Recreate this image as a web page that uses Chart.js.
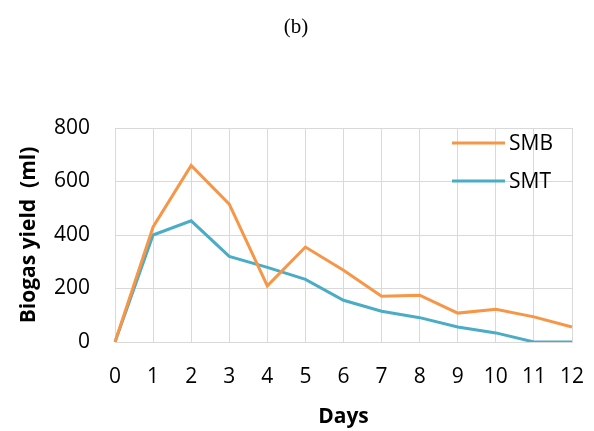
<!DOCTYPE html>
<html>
<head>
<meta charset="utf-8">
<script src="https://cdn.jsdelivr.net/npm/chart.js@4.4.1/dist/chart.umd.min.js"></script>
<style>
  html, body { margin: 0; padding: 0; background: #fff; }
  #wrap { width: 594px; height: 431px; }
</style>
</head>
<body>
<div id="wrap"><canvas id="c"></canvas></div>
<script>
const days = ["0","1","2","3","4","5","6","7","8","9","10","11","12"];
const smb = [0, 430, 660, 515, 210, 355, 268, 171, 175, 108, 122, 94, 56];
const smt = [0, 400, 453, 320, 279, 234, 156, 115, 91, 56, 34, 0, 0];
const yTicks = [0, 200, 400, 600, 800];

const gridColor = '#d9d9d9';
const tickFont = { family: 'Open Sans', size: 21 };
const titleFont = { family: 'Open Sans', size: 21, weight: 'bold' };

// "(b)" heading and the in-plot legend
const extras = {
  id: 'extras',
  afterDraw(chart) {
    const { ctx, chartArea } = chart;
    ctx.save();
    ctx.fillStyle = '#000';
    ctx.font = '21px "Liberation Serif"';
    ctx.textAlign = 'center';
    ctx.textBaseline = 'middle';
    ctx.fillText('(b)', 296, 27);

    chart.data.datasets.forEach((ds, i) => {
      const y = chartArea.top + 15 + i * 38;
      const x0 = chartArea.right - 120;
      ctx.strokeStyle = ds.borderColor;
      ctx.lineWidth = 3;
      ctx.beginPath();
      ctx.moveTo(x0, y);
      ctx.lineTo(x0 + 53, y);
      ctx.stroke();
      ctx.fillStyle = '#000';
      ctx.font = '21px "Open Sans"';
      ctx.textAlign = 'left';
      ctx.fillText(ds.label, x0 + 57, y + 1);
    });
    ctx.restore();
  }
};

new Chart(document.getElementById('c'), {
  type: 'line',
  data: {
    labels: days,
    datasets: [
      { label: 'SMB', data: smb, borderColor: '#f79646', borderWidth: 3, pointRadius: 0, tension: 0 },
      { label: 'SMT', data: smt, borderColor: '#4bacc6', borderWidth: 3, pointRadius: 0, tension: 0 }
    ]
  },
  options: {
    responsive: true,
    maintainAspectRatio: false,
    animation: false,
    layout: { padding: { top: 128, right: 22, left: 0, bottom: 0 } },
    plugins: {
      legend: { display: false },
      tooltip: { enabled: false }
    },
    scales: {
      x: {
        offset: false,
        grid: { color: gridColor, drawTicks: false },
        border: { color: gridColor },
        ticks: { color: '#000', font: tickFont, padding: 22, maxRotation: 0 },
        title: { display: true, text: 'Days', color: '#000', font: titleFont, padding: { top: 0, bottom: 1 } },
        afterFit(s) { s.height = 89; s.paddingLeft = 0; s.paddingRight = 0; }
      },
      y: {
        min: 0,
        max: 800,
        afterBuildTicks(s) { s.ticks = yTicks.map(v => ({ value: v })); },
        grid: { color: gridColor, drawTicks: false },
        border: { color: gridColor },
        ticks: { color: '#000', font: tickFont, padding: 25 },
        title: { display: true, text: 'Biogas yield  (ml)', color: '#000', font: titleFont, padding: { top: 16, bottom: 0 } },
        afterFit(s) { s.width = 115; s.paddingTop = 0; s.paddingBottom = 0; }
      }
    }
  },
  plugins: [extras]
});
</script>
</body>
</html>
